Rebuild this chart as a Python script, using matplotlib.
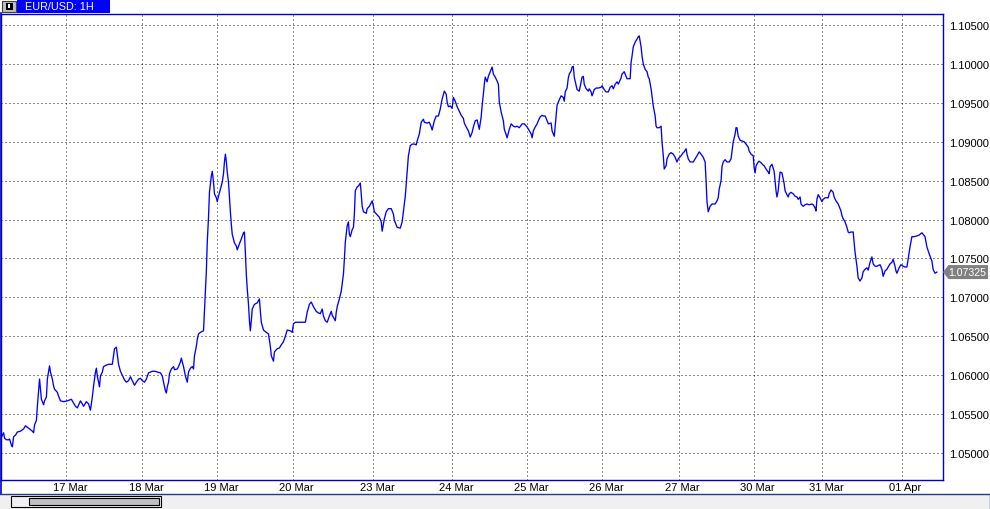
import matplotlib
matplotlib.use("Agg")
import matplotlib.pyplot as plt
import matplotlib.transforms as mtransforms
from matplotlib.patches import Rectangle, Polygon
from matplotlib.lines import Line2D

plt.rcParams['font.family'] = ['Liberation Sans', 'DejaVu Sans']

# ---------------- data (hours since first bar, EUR/USD price) ----------------
symbol = "EUR/USD: 1H"
last_price = 1.07325

day_labels = ["17 Mar", "18 Mar", "19 Mar", "20 Mar", "23 Mar", "24 Mar",
              "25 Mar", "26 Mar", "27 Mar", "30 Mar", "31 Mar", "01 Apr"]
day_pos = [21.1, 45.4, 69.4, 93.5, 119.3, 144.7, 168.6, 192.6, 217.1, 241.1, 263.1, 288.5]

price_levels = [1.050, 1.055, 1.060, 1.065, 1.070, 1.075,
                1.080, 1.085, 1.090, 1.095, 1.100, 1.105]

hours_a = [0.0, 1.0, 1.3, 1.9, 2.6, 2.9, 3.5, 3.8, 4.2, 4.8,
           5.4, 6.4, 7.4, 8.0, 8.6, 9.3, 10.2, 10.6, 10.9, 11.5,
           11.8, 12.2, 12.5, 12.8, 13.1, 13.8, 14.1, 14.7, 15.0, 15.4,
           15.7, 16.0, 16.6, 17.0, 17.3, 18.2, 18.6, 19.2, 20.2, 21.4,
           22.7, 23.4, 24.0, 24.6, 25.6, 26.2, 26.6, 27.5, 28.2, 28.5,
           28.8, 29.4, 29.8, 30.4, 30.7, 31.0, 31.7, 32.0, 32.6, 33.0,
           33.9, 34.6, 35.8, 36.2, 36.5, 37.1, 37.4, 37.8, 38.4, 39.0,
           39.7, 40.3, 41.0, 41.6, 42.2, 42.9, 43.5, 44.2, 44.8, 45.4,
           46.1, 46.7, 47.4, 48.6, 49.6, 50.2, 51.2, 51.8, 52.2, 52.8,
           53.1, 53.4, 53.8, 54.1, 54.7, 55.4, 55.7, 56.6, 57.0, 57.6,
           57.9, 58.2, 58.6, 59.2, 59.8, 60.2, 60.8, 61.4, 61.8, 62.1,
           62.7, 63.0]
price_a = [1.0518, 1.0526, 1.0519, 1.0517, 1.0517, 1.0518, 1.0510, 1.0508, 1.0521, 1.0523,
           1.0527, 1.0528, 1.0531, 1.0535, 1.0533, 1.0531, 1.0528, 1.0526, 1.0536, 1.0542,
           1.0560, 1.0580, 1.0595, 1.0582, 1.0569, 1.0562, 1.0567, 1.0572, 1.0595, 1.0605,
           1.0612, 1.0604, 1.0595, 1.0586, 1.0582, 1.0578, 1.0573, 1.0567, 1.0566, 1.0567,
           1.0569, 1.0564, 1.0560, 1.0558, 1.0567, 1.0563, 1.0560, 1.0566, 1.0563, 1.0559,
           1.0555, 1.0572, 1.0586, 1.0604, 1.0609, 1.0599, 1.0585, 1.0599, 1.0604, 1.0611,
           1.0613, 1.0614, 1.0614, 1.0625, 1.0634, 1.0636, 1.0627, 1.0614, 1.0605, 1.0600,
           1.0594, 1.0591, 1.0593, 1.0598, 1.0593, 1.0587, 1.0591, 1.0595, 1.0596, 1.0593,
           1.0591, 1.0595, 1.0603, 1.0605, 1.0605, 1.0604, 1.0603, 1.0599, 1.0591, 1.0580,
           1.0577, 1.0585, 1.0591, 1.0602, 1.0608, 1.0611, 1.0607, 1.0608, 1.0611, 1.0617,
           1.0622, 1.0617, 1.0611, 1.0599, 1.0591, 1.0604, 1.0609, 1.0611, 1.0608, 1.0625,
           1.0637, 1.0646]

hours_b = [63.4, 64.0, 65.0, 65.3, 65.6, 65.9, 66.2, 66.6, 66.9, 67.5,
           67.8, 68.2, 68.5, 69.1, 69.4, 69.8, 70.4, 71.0, 71.4, 71.7,
           72.0, 72.3, 72.6, 73.0, 73.3, 73.6, 73.9, 74.2, 74.9, 75.5,
           75.8, 76.5, 77.1, 77.8, 78.1, 78.4, 78.7, 79.0, 79.4, 79.7,
           80.0, 80.3, 80.6, 81.3, 82.2, 82.9, 83.2, 83.5, 84.2, 85.1,
           85.8, 86.4, 86.7, 87.4, 87.7, 88.6, 89.3, 89.9, 90.6, 91.2,
           91.8, 92.8, 93.4, 93.8, 94.4, 96.0, 97.6, 98.2, 98.9, 99.5,
           100.2, 101.1, 101.8, 102.4, 103.0, 103.4, 104.0, 104.6, 105.3, 105.9,
           106.2, 107.2, 107.5, 107.8, 108.5, 109.1, 109.8, 110.1, 110.4, 111.0,
           111.4, 111.7, 112.0, 112.6, 113.0, 113.3, 113.6, 114.2, 114.6, 115.2]
price_b = [1.0653, 1.0655, 1.0657, 1.0682, 1.0707, 1.0733, 1.0771, 1.0803, 1.0835, 1.0856,
           1.0862, 1.0848, 1.0833, 1.0828, 1.0823, 1.0830, 1.0839, 1.0848, 1.0859, 1.0874,
           1.0884, 1.0875, 1.0861, 1.0848, 1.0829, 1.0810, 1.0794, 1.0781, 1.0770, 1.0766,
           1.0761, 1.0769, 1.0775, 1.0783, 1.0784, 1.0758, 1.0730, 1.0711, 1.0691, 1.0670,
           1.0657, 1.0670, 1.0685, 1.0691, 1.0693, 1.0698, 1.0682, 1.0668, 1.0658, 1.0655,
           1.0653, 1.0637, 1.0625, 1.0618, 1.0630, 1.0634, 1.0635, 1.0639, 1.0643, 1.0650,
           1.0658, 1.0657, 1.0655, 1.0666, 1.0668, 1.0668, 1.0668, 1.0681, 1.0691, 1.0694,
           1.0688, 1.0682, 1.0680, 1.0679, 1.0685, 1.0676, 1.0670, 1.0668, 1.0676, 1.0682,
           1.0677, 1.0670, 1.0681, 1.0688, 1.0698, 1.0708, 1.0730, 1.0749, 1.0771, 1.0792,
           1.0797, 1.0781, 1.0778, 1.0787, 1.0790, 1.0807, 1.0837, 1.0842, 1.0843, 1.0847]

hours_c = [115.5, 115.8, 116.2, 117.1, 117.4, 118.1, 119.0, 119.4, 119.7, 120.6,
           121.3, 121.9, 122.2, 122.9, 123.5, 124.2, 125.1, 125.8, 126.1, 127.0,
           128.0, 128.6, 129.0, 129.6, 130.2, 130.6, 131.2, 131.8, 132.5, 133.1,
           133.4, 134.1, 134.7, 135.4, 135.7, 136.6, 137.3, 137.9, 138.2, 138.9,
           139.5, 140.2, 140.8, 141.4, 142.1, 142.7, 143.0, 143.4, 144.0, 144.6,
           145.0, 145.6, 146.2, 146.9, 147.5, 148.2, 148.5, 149.1, 149.8, 150.4,
           151.0, 151.4, 152.0, 152.6, 153.3, 153.9, 154.2, 154.6, 154.9, 155.2,
           155.8, 156.2, 156.8, 157.4, 157.8, 158.4, 159.0, 159.4, 159.7, 160.3,
           161.0, 161.3, 161.9, 162.2, 162.9, 163.5, 164.2, 164.8, 165.4, 166.1,
           167.0, 167.7, 168.6, 169.3]
price_c = [1.0833, 1.0817, 1.0810, 1.0808, 1.0814, 1.0817, 1.0824, 1.0817, 1.0810, 1.0806,
           1.0803, 1.0797, 1.0785, 1.0801, 1.0810, 1.0814, 1.0814, 1.0807, 1.0799, 1.0790,
           1.0789, 1.0797, 1.0810, 1.0830, 1.0861, 1.0882, 1.0895, 1.0897, 1.0897, 1.0896,
           1.0901, 1.0910, 1.0925, 1.0929, 1.0925, 1.0924, 1.0925, 1.0919, 1.0915, 1.0927,
           1.0933, 1.0933, 1.0942, 1.0955, 1.0965, 1.0961, 1.0951, 1.0945, 1.0946, 1.0943,
           1.0957, 1.0952, 1.0945, 1.0939, 1.0934, 1.0930, 1.0924, 1.0919, 1.0914, 1.0906,
           1.0912, 1.0919, 1.0927, 1.0928, 1.0916, 1.0932, 1.0946, 1.0961, 1.0974, 1.0983,
           1.0977, 1.0984, 1.0990, 1.0996, 1.0987, 1.0983, 1.0978, 1.0974, 1.0951, 1.0938,
           1.0927, 1.0916, 1.0909, 1.0905, 1.0916, 1.0923, 1.0920, 1.0919, 1.0920, 1.0918,
           1.0923, 1.0923, 1.0919, 1.0914]

hours_d = [169.9, 170.2, 170.6, 171.2, 171.8, 172.2, 172.8, 173.4, 173.8, 174.4,
           175.0, 175.4, 176.3, 176.6, 177.3, 177.6, 177.9, 178.2, 178.9, 179.5,
           180.2, 180.5, 180.8, 181.4, 181.8, 182.1, 182.7, 183.0, 183.4, 183.7,
           184.3, 184.6, 185.3, 185.9, 186.2, 186.6, 186.9, 187.5, 188.2, 188.5,
           189.1, 189.4, 190.1, 190.7, 191.4, 192.3, 192.6, 193.3, 193.9, 194.6,
           195.2, 195.8, 196.2, 196.8, 197.4, 197.8, 198.7, 199.0, 199.7, 200.3,
           200.6, 201.6, 201.9, 202.2, 202.6, 203.2, 203.8, 204.2, 204.5, 205.1,
           205.4, 205.8, 206.4, 207.0, 207.4, 207.7, 208.3, 208.6, 209.0, 209.6,
           209.9, 210.2, 210.9, 211.5, 211.8, 212.2, 212.5, 213.1, 213.4, 214.1,
           214.7, 215.4, 216.0, 216.6, 217.0, 217.9, 218.6, 218.9, 219.5, 219.8,
           220.2, 220.8, 221.8, 222.4, 223.0, 223.7, 224.3, 225.0, 225.6, 225.9,
           226.2, 226.6, 227.2, 227.8, 228.8, 229.4, 229.8, 230.1, 230.7, 231.0,
           231.4, 232.0, 232.6, 233.3]
price_d = [1.0910, 1.0905, 1.0914, 1.0919, 1.0923, 1.0927, 1.0932, 1.0934, 1.0933, 1.0933,
           1.0927, 1.0923, 1.0924, 1.0914, 1.0907, 1.0920, 1.0934, 1.0947, 1.0954, 1.0959,
           1.0957, 1.0952, 1.0964, 1.0969, 1.0982, 1.0987, 1.0991, 1.0996, 1.0997, 1.0983,
           1.0972, 1.0967, 1.0965, 1.0977, 1.0983, 1.0984, 1.0974, 1.0968, 1.0965, 1.0968,
           1.0964, 1.0959, 1.0967, 1.0969, 1.0969, 1.0970, 1.0972, 1.0967, 1.0964, 1.0964,
           1.0970, 1.0972, 1.0968, 1.0974, 1.0977, 1.0974, 1.0982, 1.0987, 1.0990, 1.0984,
           1.0981, 1.0981, 1.1002, 1.1010, 1.1022, 1.1028, 1.1032, 1.1035, 1.1036, 1.1022,
           1.1010, 1.1000, 1.0993, 1.0990, 1.0983, 1.0981, 1.0968, 1.0959, 1.0946, 1.0933,
           1.0920, 1.0918, 1.0918, 1.0920, 1.0900, 1.0882, 1.0865, 1.0869, 1.0878, 1.0884,
           1.0886, 1.0884, 1.0880, 1.0874, 1.0878, 1.0882, 1.0886, 1.0887, 1.0891, 1.0884,
           1.0878, 1.0874, 1.0874, 1.0878, 1.0882, 1.0887, 1.0884, 1.0880, 1.0874, 1.0850,
           1.0823, 1.0810, 1.0817, 1.0820, 1.0820, 1.0824, 1.0828, 1.0839, 1.0850, 1.0868,
           1.0874, 1.0877, 1.0874, 1.0874]

hours_e = [233.9, 234.2, 234.6, 235.2, 235.5, 235.8, 236.2, 236.8, 237.4, 238.1,
           238.7, 239.4, 239.7, 240.3, 241.0, 241.3, 241.6, 241.9, 242.6, 242.9,
           243.5, 244.2, 244.5, 245.1, 245.8, 246.1, 246.4, 247.0, 247.4, 247.7,
           248.0, 248.3, 248.6, 249.0, 249.3, 249.6, 250.2, 250.6, 250.9, 251.2,
           251.8, 252.2, 252.5, 253.1, 253.8, 254.4, 255.0, 255.4, 256.0, 256.3,
           257.0, 257.6, 258.2, 258.9, 259.8, 260.2, 260.8, 261.1, 261.4, 261.8,
           262.4, 263.0, 263.4, 264.0, 265.0, 265.3, 265.9, 266.6, 266.9, 267.5,
           268.2, 268.5, 269.1, 269.4, 269.8, 270.4, 271.0, 271.4, 271.7, 272.3,
           273.0, 273.3, 273.6, 274.2, 274.6, 275.2, 275.8, 276.2, 276.8, 277.4,
           277.8, 278.4, 279.0, 279.4, 280.0, 280.6, 281.6, 282.2, 282.6, 283.2,
           283.8, 284.2, 284.8, 285.4, 285.8, 286.4, 286.7, 287.0, 287.7, 288.3,
           289.0, 289.6, 290.2, 290.6, 291.2, 291.8, 292.5, 293.4, 294.1, 295.0,
           295.4, 296.0, 296.6, 297.0, 297.6, 298.2, 298.6, 299.2, 299.8]
price_e = [1.0878, 1.0887, 1.0900, 1.0910, 1.0918, 1.0918, 1.0907, 1.0902, 1.0901, 1.0900,
           1.0897, 1.0893, 1.0888, 1.0884, 1.0882, 1.0866, 1.0860, 1.0869, 1.0874, 1.0875,
           1.0873, 1.0870, 1.0869, 1.0865, 1.0861, 1.0859, 1.0868, 1.0871, 1.0866, 1.0862,
           1.0850, 1.0837, 1.0829, 1.0837, 1.0850, 1.0861, 1.0860, 1.0852, 1.0846, 1.0837,
           1.0832, 1.0829, 1.0833, 1.0835, 1.0833, 1.0830, 1.0829, 1.0826, 1.0829, 1.0820,
           1.0817, 1.0819, 1.0820, 1.0819, 1.0820, 1.0819, 1.0815, 1.0811, 1.0826, 1.0832,
           1.0828, 1.0823, 1.0826, 1.0828, 1.0828, 1.0833, 1.0838, 1.0835, 1.0829, 1.0824,
           1.0820, 1.0817, 1.0811, 1.0805, 1.0801, 1.0797, 1.0790, 1.0784, 1.0783, 1.0784,
           1.0784, 1.0771, 1.0758, 1.0740, 1.0725, 1.0721, 1.0725, 1.0733, 1.0736, 1.0738,
           1.0735, 1.0745, 1.0752, 1.0743, 1.0740, 1.0740, 1.0742, 1.0736, 1.0727, 1.0734,
           1.0736, 1.0739, 1.0743, 1.0745, 1.0749, 1.0740, 1.0734, 1.0731, 1.0738, 1.0742,
           1.0740, 1.0739, 1.0739, 1.0749, 1.0765, 1.0778, 1.0778, 1.0779, 1.0780, 1.0783,
           1.0781, 1.0778, 1.0765, 1.0760, 1.0753, 1.0747, 1.0736, 1.0731, 1.07325]

hours = hours_a + hours_b + hours_c + hours_d + hours_e
prices = price_a + price_b + price_c + price_d + price_e
n = min(len(hours), len(prices))
hours, prices = hours[:n], prices[:n]

# ---------------- styling / layout ----------------
W, H = 990, 510
FRAME = '#0000c8'
LINE = '#0000ff'

fig = plt.figure(figsize=(W / 100, H / 100), dpi=100)
fig.patch.set_facecolor('white')

ax_left, ax_right, ax_top, ax_bottom = 0.5, 942.5, 14.5, 481.0
ax = fig.add_axes([ax_left / W, 1 - ax_bottom / H,
                   (ax_right - ax_left) / W, (ax_bottom - ax_top) / H])
ax.set_facecolor('white')

ax.plot(hours, prices, color=LINE, lw=0.95, zorder=3)

ax.set_xlim(0, 301.6)
ax.set_ylim(1.04653, 1.10648)

for sp in ax.spines.values():
    sp.set_color(FRAME)
    sp.set_linewidth(1.0)

ax.set_yticks(price_levels)
ax.set_yticklabels([f"{v:.5f}" for v in price_levels])
ax.yaxis.tick_right()
ax.tick_params(axis='y', length=0, pad=4.5, labelsize=8, colors='black')
ax.set_xticks(day_pos)
ax.set_xticklabels([])
ax.tick_params(axis='x', length=0)
ax.set_axisbelow(True)
ax.grid(True, color='black', linestyle=(0, (1, 3)), linewidth=0.72, alpha=0.9)

# date labels under the frame
base = mtransforms.blended_transform_factory(ax.transData, ax.transAxes)
lab_tr = mtransforms.offset_copy(base, fig=fig, x=4, y=-7.5, units='dots')
for p, lab in zip(day_pos, day_labels):
    ax.text(p, 0, lab, transform=lab_tr, ha='center', va='center',
            fontsize=8, color='black', clip_on=False)

# helpers to place chrome in pixel coordinates (origin top-left)
def fx(px):
    return px / W

def fy(py):
    return 1 - py / H

# left border
fig.add_artist(Line2D([fx(0.5), fx(0.5)], [fy(14), fy(495)], color=FRAME, lw=1.2))
# bottom separator and scroll area
fig.add_artist(Rectangle((0, 0), 1, fy(495.5), transform=fig.transFigure,
                         facecolor='#f0f0f0', edgecolor='none'))
fig.add_artist(Line2D([0, 1], [fy(495), fy(495)], color='#1f3a93', lw=1.0))
fig.add_artist(Line2D([fx(989.5), fx(989.5)], [fy(495), 0], color='#1f3a93', lw=1.0))
fig.add_artist(Rectangle((fx(10.5), fy(507.5)), (160.5 - 10.5) / W, (507.5 - 496.5) / H,
                         transform=fig.transFigure, facecolor='#f0f0f0',
                         edgecolor='black', lw=0.8))
fig.add_artist(Rectangle((fx(28.5), fy(505.5)), (158.5 - 28.5) / W, (505.5 - 499.0) / H,
                         transform=fig.transFigure, facecolor='#c0c0c0',
                         edgecolor='black', lw=0.8))

# title tab
fig.add_artist(Rectangle((fx(17), fy(14)), (110 - 17) / W, 14 / H,
                         transform=fig.transFigure, facecolor='#0000ff', edgecolor='none'))
fig.text(fx(25), fy(7), symbol, color='white', fontsize=7.8, ha='left', va='center')
fig.add_artist(Rectangle((fx(1.5), fy(12.5)), 14 / W, 11 / H, transform=fig.transFigure,
                         facecolor='#c0c0c0', edgecolor='#404040', lw=0.8))
fig.add_artist(Rectangle((fx(5.5), fy(10.5)), 7 / W, 7 / H, transform=fig.transFigure,
                         facecolor='black', edgecolor='none'))
fig.add_artist(Rectangle((fx(8), fy(9)), 2 / W, 4 / H, transform=fig.transFigure,
                         facecolor='white', edgecolor='none'))

# current price tag
fig.canvas.draw()
ydisp = ax.transData.transform((0, last_price))[1]
tag = Polygon([(943, ydisp), (948.5, ydisp + 7), (988, ydisp + 7),
               (988, ydisp - 7), (948.5, ydisp - 7)], closed=True,
              transform=None, facecolor='#808080', edgecolor='none')
fig.add_artist(tag)
fig.text(948.5 / W, ydisp / H, f"{last_price:.5f}", color='white', fontsize=7.6,
         ha='left', va='center')

fig.savefig("out.png", dpi=100, facecolor='white')
